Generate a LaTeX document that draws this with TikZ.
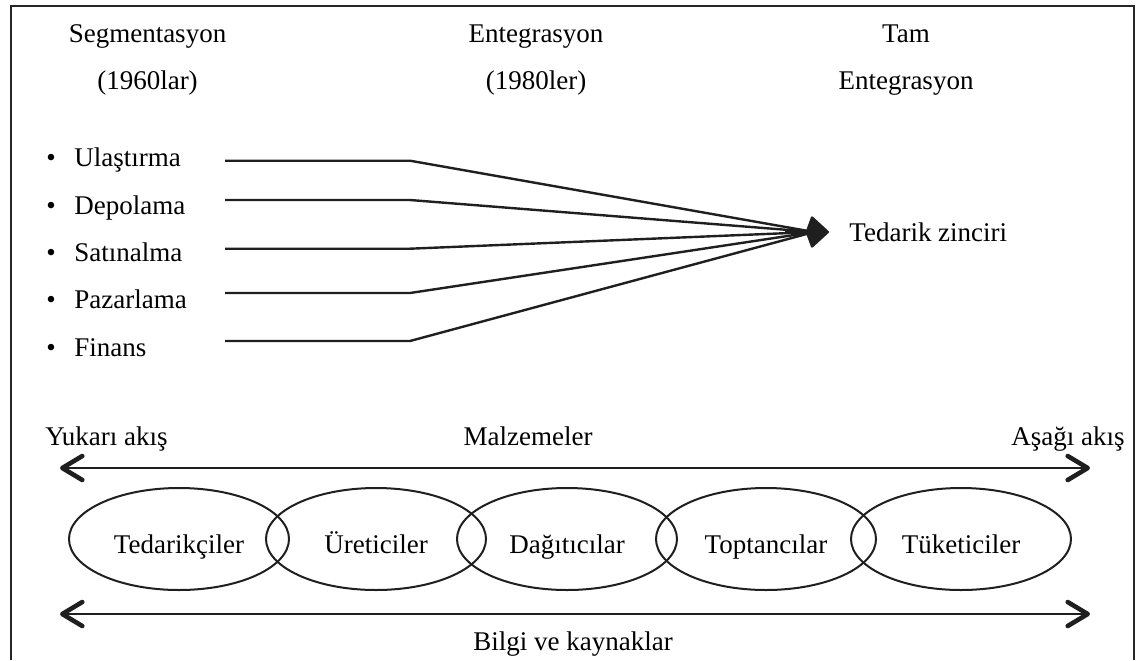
\documentclass[tikz,border=0pt]{standalone}
\usepackage{fontspec}
\setmainfont{Liberation Serif}
\usetikzlibrary{arrows.meta,shapes.geometric}
\begin{document}
\begin{tikzpicture}[x=0.5pt,y=-0.5pt,
  txt/.style={inner sep=0pt, anchor=base, font=\fontsize{13.5}{16}\selectfont},
  item/.style={txt, anchor=base west},
  link/.style={line width=1.2pt, line join=round, color=black!88},
  stage/.style={draw=black!88, line width=1pt, ellipse, minimum width=110pt,
    minimum height=51pt, inner sep=0pt, text height=14pt, text depth=0pt,
    font=\fontsize{13.5}{16}\selectfont},
  barb/.tip={Straight Barb[length=10pt,width=12pt,line width=2.3pt,round]},
  flow/.style={line width=1.1pt, color=black!88, barb-barb},
  frame/.style={line width=1.4pt, color=black!85}]
\useasboundingbox (0,0) rectangle (1146,660);

% open frame
\draw[frame] (11,660) -- (11,6) -- (1134,6) -- (1134,660);

% period headings
\node[txt] (h1) at (147.5,42) {Segmentasyon};
\node[txt] (h1b) at (147.5,89) {(1960lar)};
\node[txt] (h2) at (536,42) {Entegrasyon};
\node[txt] (h2b) at (536,89) {(1980ler)};
\node[txt] (h3) at (906,42) {Tam};
\node[txt] (h3b) at (906,89) {Entegrasyon};

% functions
\node[item] (f1) at (46,166) {•\hspace{9.3pt}Ulaştırma};
\node[item] (f2) at (46,214) {•\hspace{9.3pt}Depolama};
\node[item] (f3) at (46,261) {•\hspace{9.3pt}Satınalma};
\node[item] (f4) at (46,308) {•\hspace{9.3pt}Pazarlama};
\node[item] (f5) at (46,356) {•\hspace{9.3pt}Finans};

\coordinate (a1) at (225,160.7); \coordinate (b1) at (410,160.7);
\coordinate (a2) at (225,200);   \coordinate (b2) at (410,200);
\coordinate (a3) at (225,248.7); \coordinate (b3) at (410,248.7);
\coordinate (a4) at (225,293);   \coordinate (b4) at (410,293);
\coordinate (a5) at (225,341);   \coordinate (b5) at (410,341);
\coordinate (hub) at (814,232);
\coordinate (stem) at (785,232);
\coordinate (tip) at (829,232);

\foreach \i in {1,...,5}
  \draw[link] (a\i) -- (b\i) -- (hub);
\draw[link, -{Kite[length=12pt,width=16.5pt,inset=3pt,round]}] (stem) -- (tip);

\node[txt, anchor=base west] (sc) at (849,241) {Tedarik zinciri};

% material flow
\node[txt, anchor=base west] (up) at (45,445) {Yukarı akış};
\node[txt] (mat) at (528,445) {Malzemeler};
\node[txt, anchor=base east] (down) at (1125,445) {Aşağı akış};
\coordinate (m1) at (60,468); \coordinate (m2) at (1090,468);
\draw[flow] (m1) -- (m2);

% chain members
\node[stage] (e1) at (179,539) {Tedarikçiler};
\node[stage] (e2) at (376,539) {Üreticiler};
\node[stage] (e3) at (567,539) {Dağıtıcılar};
\node[stage] (e4) at (766,539) {Toptancılar};
\node[stage] (e5) at (961,539) {Tüketiciler};

% information flow
\coordinate (i1) at (60,614); \coordinate (i2) at (1090,614);
\draw[flow] (i1) -- (i2);
\node[txt] (info) at (573,650) {Bilgi ve kaynaklar};
\end{tikzpicture}
\end{document}
